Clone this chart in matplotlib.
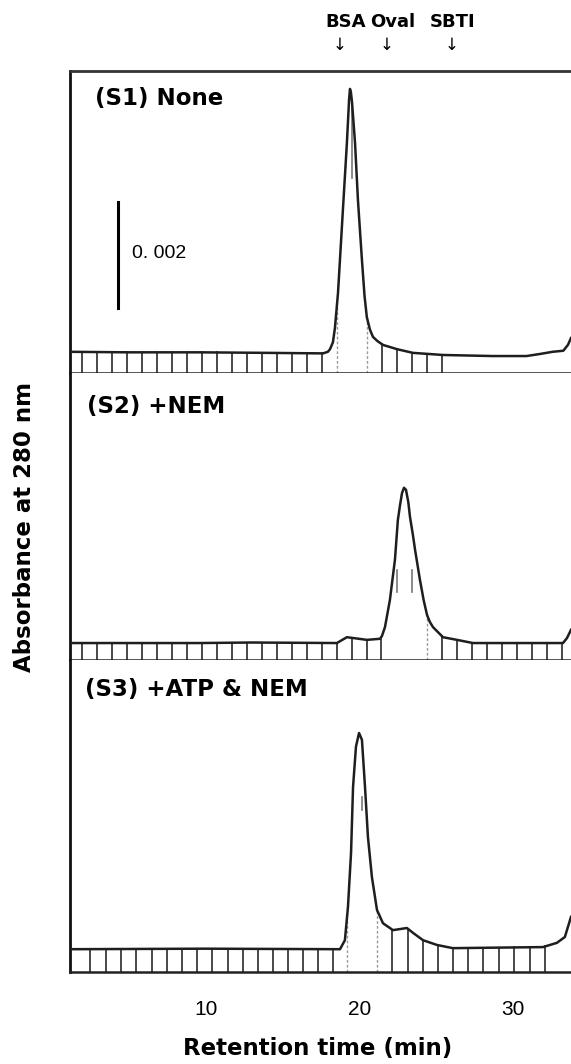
import numpy as np
import matplotlib
matplotlib.use("Agg")
import matplotlib.pyplot as plt
import matplotlib.transforms as mtransforms

# retention time (min) and absorbance at 280 nm (x 1e-3, i.e. mAU)
t1 = [1.16, 5.0, 9.6, 14.0, 17.64, 17.96, 18.1, 18.29, 18.42, 18.62, 18.94, 19.2,
      19.34, 19.40, 19.46, 19.53, 19.73, 19.92, 20.18, 20.35, 20.5, 20.7, 20.9,
      21.2, 21.55, 22.46, 23.5, 25.46, 28.7, 30.9, 31.8, 32.6, 33.3, 33.6, 33.8]
a1 = [0.40, 0.39, 0.39, 0.38, 0.37, 0.40, 0.45, 0.58, 0.85, 1.51, 3.08, 4.34,
      5.15, 5.36, 5.30, 5.12, 4.34, 3.26, 2.13, 1.45, 1.05, 0.82, 0.68,
      0.60, 0.53, 0.45, 0.38, 0.34, 0.32, 0.32, 0.36, 0.40, 0.42, 0.53, 0.66]

t2 = [1.16, 9.6, 13.0, 18.55, 18.9, 19.2, 19.6, 20.5, 21.35, 21.48, 21.68, 22.0,
      22.33, 22.52, 22.66, 22.79, 22.92, 23.05, 23.2, 23.31, 23.5, 23.64, 23.96,
      24.2, 24.42, 24.6, 24.81, 25.46, 26.37, 27.41, 30.93, 33.28, 33.54, 33.8]
a2 = [0.32, 0.32, 0.33, 0.32, 0.38, 0.43, 0.415, 0.38, 0.40, 0.45, 0.62, 1.13,
      1.89, 2.64, 2.92, 3.15, 3.25, 3.21, 2.98, 2.70, 2.36, 2.08, 1.51,
      1.13, 0.85, 0.72, 0.62, 0.43, 0.38, 0.32, 0.32, 0.32, 0.415, 0.57]

t3 = [1.16, 10.0, 18.75, 19.07, 19.27, 19.47, 19.6, 19.79, 19.99, 20.18, 20.38,
      20.57, 20.83, 21.16, 21.55, 22.2, 22.66, 23.11, 23.5, 24.16, 25.07, 26.1,
      31.97, 32.88, 33.4, 33.6, 33.8]
a3 = [0.43, 0.44, 0.43, 0.60, 1.23, 2.25, 3.49, 4.25, 4.51, 4.38, 3.49,
      2.55, 1.79, 1.17, 0.92, 0.79, 0.81, 0.83, 0.74, 0.60, 0.51, 0.45,
      0.47, 0.55, 0.66, 0.85, 1.04]

# fraction marks (min)
frac1 = [1.94, 2.92, 3.9, 4.88, 5.86, 6.83, 7.81, 8.79, 9.76, 10.74, 11.72, 12.7,
         13.67, 14.65, 15.63, 16.6, 17.58, 21.48, 22.46, 23.44, 24.42, 25.4]
dash1 = [18.55, 20.5]
mark1 = [(19.53, 3.68, 5.02)]

frac2 = [1.94, 2.92, 3.9, 4.88, 5.86, 6.83, 7.81, 8.79, 9.76, 10.74, 11.72, 12.7,
         13.67, 14.65, 15.63, 16.6, 17.58, 18.55, 19.53, 20.5, 21.41, 25.4, 26.37,
         27.35, 28.33, 29.3, 30.28, 31.26, 32.23, 33.21]
dash2 = [24.42]
mark2 = [(22.46, 1.28, 1.70), (23.44, 1.28, 1.70)]

frac3 = [2.46, 3.49, 4.48, 5.46, 6.48, 7.46, 8.48, 9.45, 10.43, 11.43, 12.41, 13.39,
         14.4, 15.38, 16.36, 17.34, 18.31, 22.17, 23.16, 24.16, 25.13, 26.11, 27.11,
         28.08, 29.13, 30.1, 31.13, 32.1]
dash3 = [19.19, 21.16]
mark3 = [(20.18, 3.06, 3.30)]

titles = ["(S1) None", "(S2) +NEM", "(S3) +ATP & NEM"]
markers = ["BSA", "Oval", "SBTI"]
marker_t = [18.7, 21.8, 26.0]
xticks = [10, 20, 30]
scale_bar = 2.0  # mAU -> 0.002

W, H = 571, 1064
fig = plt.figure(figsize=(W / 100, H / 100), dpi=100)

# panel boxes in pixels: top, bottom
boxes = [(71, 373), (373, 660), (660, 972)]
mau_per_px = 2.0 / 106
x0, x1 = 70, 571

panels = [(t1, a1, frac1, dash1, mark1), (t2, a2, frac2, dash2, mark2),
          (t3, a3, frac3, dash3, mark3)]
axes = []
for i, ((top, bot), (t, a, fr, da, mk)) in enumerate(zip(boxes, panels)):
    ax = fig.add_axes([x0 / W, 1 - bot / H, (x1 - x0) / W, (bot - top) / H])
    ax.set_xlim(1.16, 33.8)
    ax.set_ylim(0, (bot - top) * mau_per_px)
    ax.plot(t, a, color="#1e1e1e", lw=1.8, solid_joinstyle="round", zorder=3)
    for f in fr:
        ax.plot([f, f], [0, np.interp(f, t, a)], color="#3a3a3a", lw=1.3, zorder=2)
    for f in da:
        ax.plot([f, f], [0, np.interp(f, t, a)], color="#9a9a9a", lw=1.0,
                ls=(0, (2, 1.5)), zorder=2)
    for f, lo, hi in mk:
        ax.plot([f, f], [lo, hi], color="#777777", lw=1.2, zorder=2)
    ax.spines["right"].set_visible(False)
    ax.spines["top"].set_visible(i == 0)
    ax.spines["top"].set_linewidth(2.0)
    ax.spines["top"].set_color("#333333")
    ax.spines["left"].set_linewidth(2.0)
    ax.spines["left"].set_color("#111111")
    ax.spines["bottom"].set_linewidth(1.8)
    ax.spines["bottom"].set_color("#222222")
    ax.set_yticks([])
    ax.set_xticks([])
    axes.append(ax)

# titles
title_pos = [(0.050, 0.91), (0.034, 0.885), (0.030, 0.905)]
for ax, ttl, (tx, ty) in zip(axes, titles, title_pos):
    ax.text(tx, ty, ttl, transform=ax.transAxes, fontsize=16.5,
            fontweight="bold", family="DejaVu Sans", ha="left", va="center")

# bottom ticks
ax3 = axes[2]
ax3.set_xticks(xticks)
ax3.tick_params(axis="x", length=0, pad=20)
for lab in ax3.get_xticklabels():
    lab.set_fontsize(15)
    lab.set_family("Liberation Sans")

# scale bar
ax1 = axes[0]
ax1.plot([4.3, 4.3], [1.23, 1.23 + scale_bar], color="black", lw=2.2)
ax1.text(5.2, 1.23 + scale_bar / 2 + 0.02, "0. 002", fontsize=14,
         family="Liberation Sans", ha="left", va="center")

# standard markers above panel 1
off = [6, 6, 1]
for m, tm, o in zip(markers, marker_t, off):
    tr = mtransforms.offset_copy(
        mtransforms.blended_transform_factory(ax1.transData, ax1.transAxes),
        fig=fig, x=o, y=0, units="dots")
    ax1.text(tm, 1.162, m, transform=tr, fontsize=13, fontweight="bold",
             family="DejaVu Sans", ha="center", va="center")
    ax1.text(tm, 1.086, "\u2193", transform=ax1.get_xaxis_transform(),
             fontsize=12, family="DejaVu Sans", ha="center", va="center",
             clip_on=False)

fig.text(318 / W, 1 - 1048 / H, "Retention time (min)", fontsize=16.5,
         fontweight="bold", family="DejaVu Sans", ha="center", va="center")
fig.text(25 / W, 1 - 527 / H, "Absorbance at 280 nm", fontsize=16.5,
         fontweight="bold", family="DejaVu Sans", ha="center", va="center",
         rotation=90)

fig.savefig("out.png", dpi=100)
